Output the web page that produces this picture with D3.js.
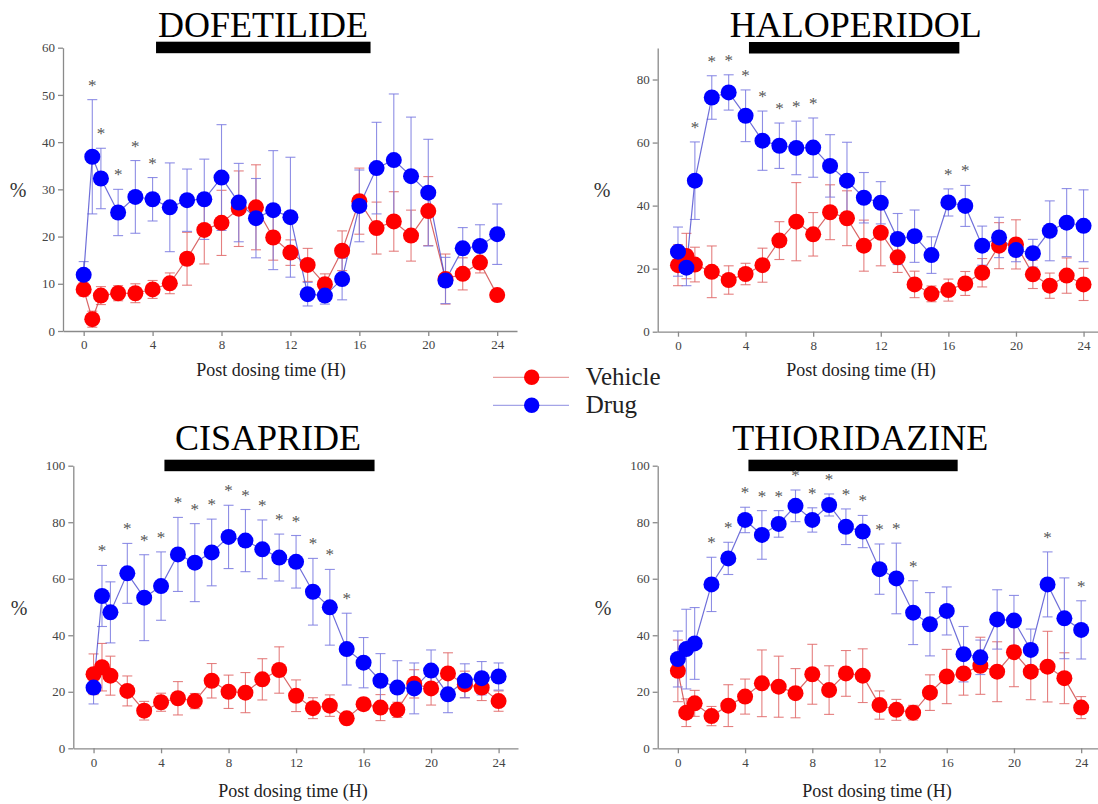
<!DOCTYPE html>
<html>
<head>
<meta charset="utf-8">
<script src="https://cdn.jsdelivr.net/npm/d3@7"></script>
</head>
<body style="margin:0; background:#fff">
<div id="chart"></div>
<script>
// Data: mean and error (half bar) per time point
var hours = [0, 0.5, 1, 2, 3, 4, 5, 6, 7, 8, 9, 10, 11, 12, 13, 14, 15, 16, 17, 18, 19, 20, 21, 22, 23, 24];
var xTicks = [0, 4, 8, 12, 16, 20, 24];
var dosing = [4.2, 16.65];

var dofVehicle = [8.8, 2.5, 7.5, 8.0, 8.0, 8.8, 10.1, 15.3, 21.4, 22.9, 25.9, 26.2, 19.8, 16.6, 14.0, 9.9, 17.0, 27.5, 21.8, 23.2, 20.2, 25.4, 11.0, 12.1, 14.5, 7.6];
var dofVehicleErr = [1.4, 1.7, 1.9, 1.6, 2.0, 1.9, 2.2, 5.6, 7.2, 6.9, 8.0, 9.0, 4.8, 2.7, 3.5, 2.2, 4.2, 7.0, 5.5, 6.3, 5.4, 7.3, 5.3, 3.4, 2.2, 1.2];
var dofDrug = [11.9, 36.9, 32.3, 25.1, 28.4, 27.9, 26.2, 27.7, 27.9, 32.5, 27.2, 23.9, 25.6, 24.1, 7.8, 7.5, 11.0, 26.5, 34.5, 36.2, 32.8, 29.3, 10.7, 17.5, 18.0, 20.5];
var dofDrugErr = [2.8, 12.1, 6.4, 4.9, 7.7, 4.6, 9.4, 6.6, 8.5, 11.2, 8.3, 8.4, 12.6, 12.7, 2.5, 1.8, 4.4, 7.6, 9.7, 14.0, 12.5, 11.3, 4.9, 4.4, 4.5, 6.4];
var dofStars = [0.5, 1, 2, 3, 4];

var halVehicle = [21.1, 24.0, 21.3, 19.0, 16.4, 18.3, 21.1, 28.9, 34.9, 30.9, 37.9, 36.0, 27.3, 31.4, 23.6, 15.0, 12.0, 13.2, 15.3, 18.7, 27.3, 27.7, 18.2, 14.6, 17.8, 15.0];
var halVehicleErr = [6.5, 7.2, 5.5, 8.2, 4.5, 3.4, 5.4, 6.0, 12.4, 6.9, 8.7, 8.7, 8.1, 10.5, 4.8, 4.2, 2.5, 3.5, 3.8, 4.5, 7.3, 7.8, 4.5, 4.0, 5.6, 5.1];
var halDrug = [25.4, 20.3, 47.9, 74.3, 75.9, 68.5, 60.6, 59.0, 58.3, 58.4, 52.6, 47.9, 42.5, 40.9, 29.4, 30.3, 24.3, 41.0, 39.9, 27.3, 29.9, 25.9, 24.9, 32.0, 34.6, 33.6];
var halDrugErr = [7.8, 5.7, 12.3, 6.9, 5.6, 8.2, 9.4, 7.2, 8.5, 9.4, 9.9, 12.2, 8.0, 6.7, 8.1, 8.3, 5.8, 4.3, 6.5, 6.2, 6.4, 3.7, 4.4, 9.5, 10.8, 11.4];
var halStars = [1, 2, 3, 4, 5, 6, 7, 8, 16, 17];

var cisVehicle = [26.2, 28.7, 25.7, 20.3, 13.3, 16.3, 17.7, 16.7, 23.9, 20.0, 19.7, 24.4, 27.7, 18.6, 14.2, 15.1, 10.6, 15.6, 14.4, 13.6, 22.8, 21.2, 26.5, 22.6, 21.5, 16.7];
var cisVehicleErr = [7.2, 8.4, 6.9, 5.3, 3.3, 3.2, 5.9, 2.7, 6.1, 5.9, 7.1, 7.3, 8.2, 5.6, 3.7, 3.8, 1.8, 2.1, 4.6, 2.7, 5.0, 5.9, 7.3, 4.7, 4.6, 3.6];
var cisDrug = [21.5, 53.9, 48.1, 61.9, 53.3, 57.4, 68.6, 65.7, 69.3, 74.8, 73.5, 70.4, 67.5, 66.0, 55.4, 49.9, 35.1, 30.3, 23.9, 21.5, 21.2, 27.5, 19.1, 23.9, 24.8, 25.4];
var cisDrugErr = [5.8, 10.8, 10.8, 10.6, 15.2, 12.1, 13.1, 13.8, 11.8, 11.2, 11.0, 10.4, 8.3, 9.3, 11.8, 13.4, 12.7, 8.9, 9.6, 9.5, 9.0, 7.3, 6.5, 6.0, 5.9, 4.8];
var cisStars = [0.5, 2, 3, 4, 5, 6, 7, 8, 9, 10, 11, 12, 13, 14, 15];

var thiVehicle = [27.4, 12.6, 15.9, 11.4, 15.1, 18.3, 23.0, 21.8, 19.5, 26.2, 20.6, 26.5, 25.7, 15.3, 13.6, 12.6, 19.7, 25.4, 26.5, 29.2, 27.1, 34.0, 27.1, 28.9, 24.8, 14.4];
var thiVehicleErr = [10.9, 4.9, 4.6, 3.4, 7.4, 6.2, 11.8, 10.8, 8.7, 10.6, 8.6, 8.1, 9.5, 5.0, 3.7, 2.6, 6.3, 9.6, 7.7, 10.1, 10.6, 12.2, 9.9, 12.5, 9.0, 3.9];
var thiDrug = [31.6, 35.1, 37.1, 58.0, 67.2, 80.8, 75.5, 79.4, 85.8, 80.8, 86.1, 78.4, 76.7, 63.4, 60.1, 48.0, 43.9, 48.6, 33.3, 32.2, 45.6, 45.2, 34.8, 58.0, 46.0, 41.9];
var thiDrugErr = [9.9, 14.1, 12.7, 9.6, 5.7, 4.5, 8.6, 4.7, 5.6, 4.3, 3.9, 6.3, 5.7, 8.9, 12.5, 11.3, 11.2, 8.5, 9.8, 6.1, 10.5, 8.9, 7.4, 11.5, 14.3, 10.3];
var thiStars = [2, 3, 4, 5, 6, 7, 8, 9, 10, 11, 12, 13, 14, 22, 24];

// Panel layout (pixel boxes of the axes)
var panels = [
  { title: "DOFETILIDE", vehicle: dofVehicle, vehicleErr: dofVehicleErr, drug: dofDrug, drugErr: dofDrugErr, stars: dofStars,
    yMax: 60, yTicks: [0, 10, 20, 30, 40, 50, 60],
    left: 63, right: 517, top: 47.7, bottom: 331,
    titleX: 263, titleY: 37, labelX: 271, labelY: 376, pctX: 18, pctY: 197 },
  { title: "HALOPERIDOL", vehicle: halVehicle, vehicleErr: halVehicleErr, drug: halDrug, drugErr: halDrugErr, stars: halStars,
    yMax: 90, yTicks: [0, 20, 40, 60, 80],
    left: 657.7, right: 1103, top: 48, bottom: 331.7,
    titleX: 855.7, titleY: 37, labelX: 861, labelY: 376, pctX: 602, pctY: 197 },
  { title: "CISAPRIDE", vehicle: cisVehicle, vehicleErr: cisVehicleErr, drug: cisDrug, drugErr: cisDrugErr, stars: cisStars,
    yMax: 100, yTicks: [0, 20, 40, 60, 80, 100],
    left: 73.3, right: 518, top: 465.7, bottom: 748.3,
    titleX: 268, titleY: 449.5, labelX: 293, labelY: 797, pctX: 19, pctY: 615 },
  { title: "THIORIDAZINE", vehicle: thiVehicle, vehicleErr: thiVehicleErr, drug: thiDrug, drugErr: thiDrugErr, stars: thiStars,
    yMax: 100, yTicks: [0, 20, 40, 60, 80, 100],
    left: 657.7, right: 1100.5, top: 465.7, bottom: 748.3,
    titleX: 860.3, titleY: 450, labelX: 877, labelY: 797, pctX: 603, pctY: 615 }
];

var serif = '"Liberation Serif"';
var vehicleStyle = { dot: "#ff0000", line: "#d04040", err: "#e06a6a" };
var drugStyle = { dot: "#0000ff", line: "#4a4ad0", err: "#7a7ae0" };

var svgWidth = 1098;
var svgHeight = 804;

var svg = d3.select("#chart")
  .append("svg")
  .attr("width", svgWidth)
  .attr("height", svgHeight)
  .style("font-family", serif);

// style a d3 axis group: grey lines, serif tick labels
function styleAxis(sel) {
  sel.attr("font-family", null);
  sel.selectAll("path, line")
    .attr("stroke", "#8a8a8a")
    .attr("stroke-width", 1.3);
  sel.selectAll("text")
    .attr("fill", "#444")
    .style("font-family", serif)
    .style("font-size", "13px");
}

panels.forEach(function(p) {
  var g = svg.append("g");

  // Scales
  var x = d3.scaleLinear()
    .domain([-1.2, 25.15])
    .range([p.left, p.right]);

  var y = d3.scaleLinear()
    .domain([0, p.yMax])
    .range([p.bottom, p.top]);

  // Axes
  g.append("g")
    .attr("transform", `translate(0, ${p.bottom})`)
    .call(d3.axisBottom(x).tickValues(xTicks).tickSize(5).tickSizeOuter(0).tickPadding(4))
    .call(styleAxis);

  g.append("g")
    .attr("transform", `translate(${p.left}, 0)`)
    .call(d3.axisLeft(y).tickValues(p.yTicks).tickSize(5).tickSizeOuter(0).tickPadding(3))
    .call(styleAxis);

  // Title and dosing bar
  g.append("text")
    .attr("x", p.titleX)
    .attr("y", p.titleY)
    .attr("text-anchor", "middle")
    .style("font-family", serif)
    .style("font-size", "36px")
    .attr("fill", "#000")
    .text(p.title);

  g.append("rect")
    .attr("x", x(dosing[0]))
    .attr("y", p.top - 6)
    .attr("width", x(dosing[1]) - x(dosing[0]))
    .attr("height", 11.5)
    .attr("fill", "#000");

  // Axis labels
  g.append("text")
    .attr("x", p.labelX)
    .attr("y", p.labelY)
    .attr("text-anchor", "middle")
    .style("font-family", serif)
    .style("font-size", "18px")
    .attr("fill", "#222")
    .text("Post dosing time (H)");

  g.append("text")
    .attr("x", p.pctX)
    .attr("y", p.pctY)
    .attr("text-anchor", "middle")
    .style("font-family", serif)
    .style("font-size", "20px")
    .attr("fill", "#333")
    .text("%");

  var series = [
    { values: p.vehicle, errs: p.vehicleErr, style: vehicleStyle },
    { values: p.drug, errs: p.drugErr, style: drugStyle }
  ];

  // Error bars and lines first, dots on top
  series.forEach(function(s) {
    var pts = hours.map(function(h, i) { return { h: h, v: s.values[i], e: s.errs[i] }; });
    var eg = g.append("g")
      .attr("stroke", s.style.err)
      .attr("stroke-width", 1.1)
      .attr("stroke-opacity", 0.85);

    eg.selectAll(".stem").data(pts).enter().append("line")
      .attr("x1", d => x(d.h)).attr("x2", d => x(d.h))
      .attr("y1", d => y(d.v - d.e)).attr("y2", d => y(d.v + d.e));
    eg.selectAll(".capHi").data(pts).enter().append("line")
      .attr("x1", d => x(d.h) - 5).attr("x2", d => x(d.h) + 5)
      .attr("y1", d => y(d.v + d.e)).attr("y2", d => y(d.v + d.e));
    eg.selectAll(".capLo").data(pts).enter().append("line")
      .attr("x1", d => x(d.h) - 5).attr("x2", d => x(d.h) + 5)
      .attr("y1", d => y(d.v - d.e)).attr("y2", d => y(d.v - d.e));

    g.append("path")
      .datum(pts)
      .attr("fill", "none")
      .attr("stroke", s.style.line)
      .attr("stroke-width", 1.2)
      .attr("stroke-opacity", 0.8)
      .attr("d", d3.line().x(d => x(d.h)).y(d => y(d.v)));
  });

  series.forEach(function(s) {
    g.selectAll(null)
      .data(hours.map(function(h, i) { return { h: h, v: s.values[i] }; }))
      .enter()
      .append("circle")
      .attr("cx", d => x(d.h))
      .attr("cy", d => y(d.v))
      .attr("r", 8)
      .attr("fill", s.style.dot);
  });

  // Significance stars above the drug error bar
  g.selectAll(null)
    .data(p.stars)
    .enter()
    .append("text")
    .attr("x", d => x(d))
    .attr("y", function(d) {
      var i = hours.indexOf(d);
      return y(p.drug[i] + p.drugErr[i]) - 9;
    })
    .attr("text-anchor", "middle")
    .style("font-family", serif)
    .style("font-size", "17px")
    .attr("fill", "#555")
    .text("*");
});

// Legend
var legend = svg.append("g");
var legendItems = [
  { name: "Vehicle", style: vehicleStyle, y: 377.3 },
  { name: "Drug", style: drugStyle, y: 405.3 }
];
legendItems.forEach(function(item) {
  legend.append("line")
    .attr("x1", 493).attr("x2", 569)
    .attr("y1", item.y).attr("y2", item.y)
    .attr("stroke", item.style.line)
    .attr("stroke-opacity", 0.5)
    .attr("stroke-width", 1.3);
  legend.append("circle")
    .attr("cx", 531.7)
    .attr("cy", item.y)
    .attr("r", 7.7)
    .attr("fill", item.style.dot);
  legend.append("text")
    .attr("x", 585.7)
    .attr("y", item.y + 8)
    .style("font-family", serif)
    .style("font-size", "25px")
    .attr("fill", "#222")
    .text(item.name);
});
</script>
</body>
</html>
